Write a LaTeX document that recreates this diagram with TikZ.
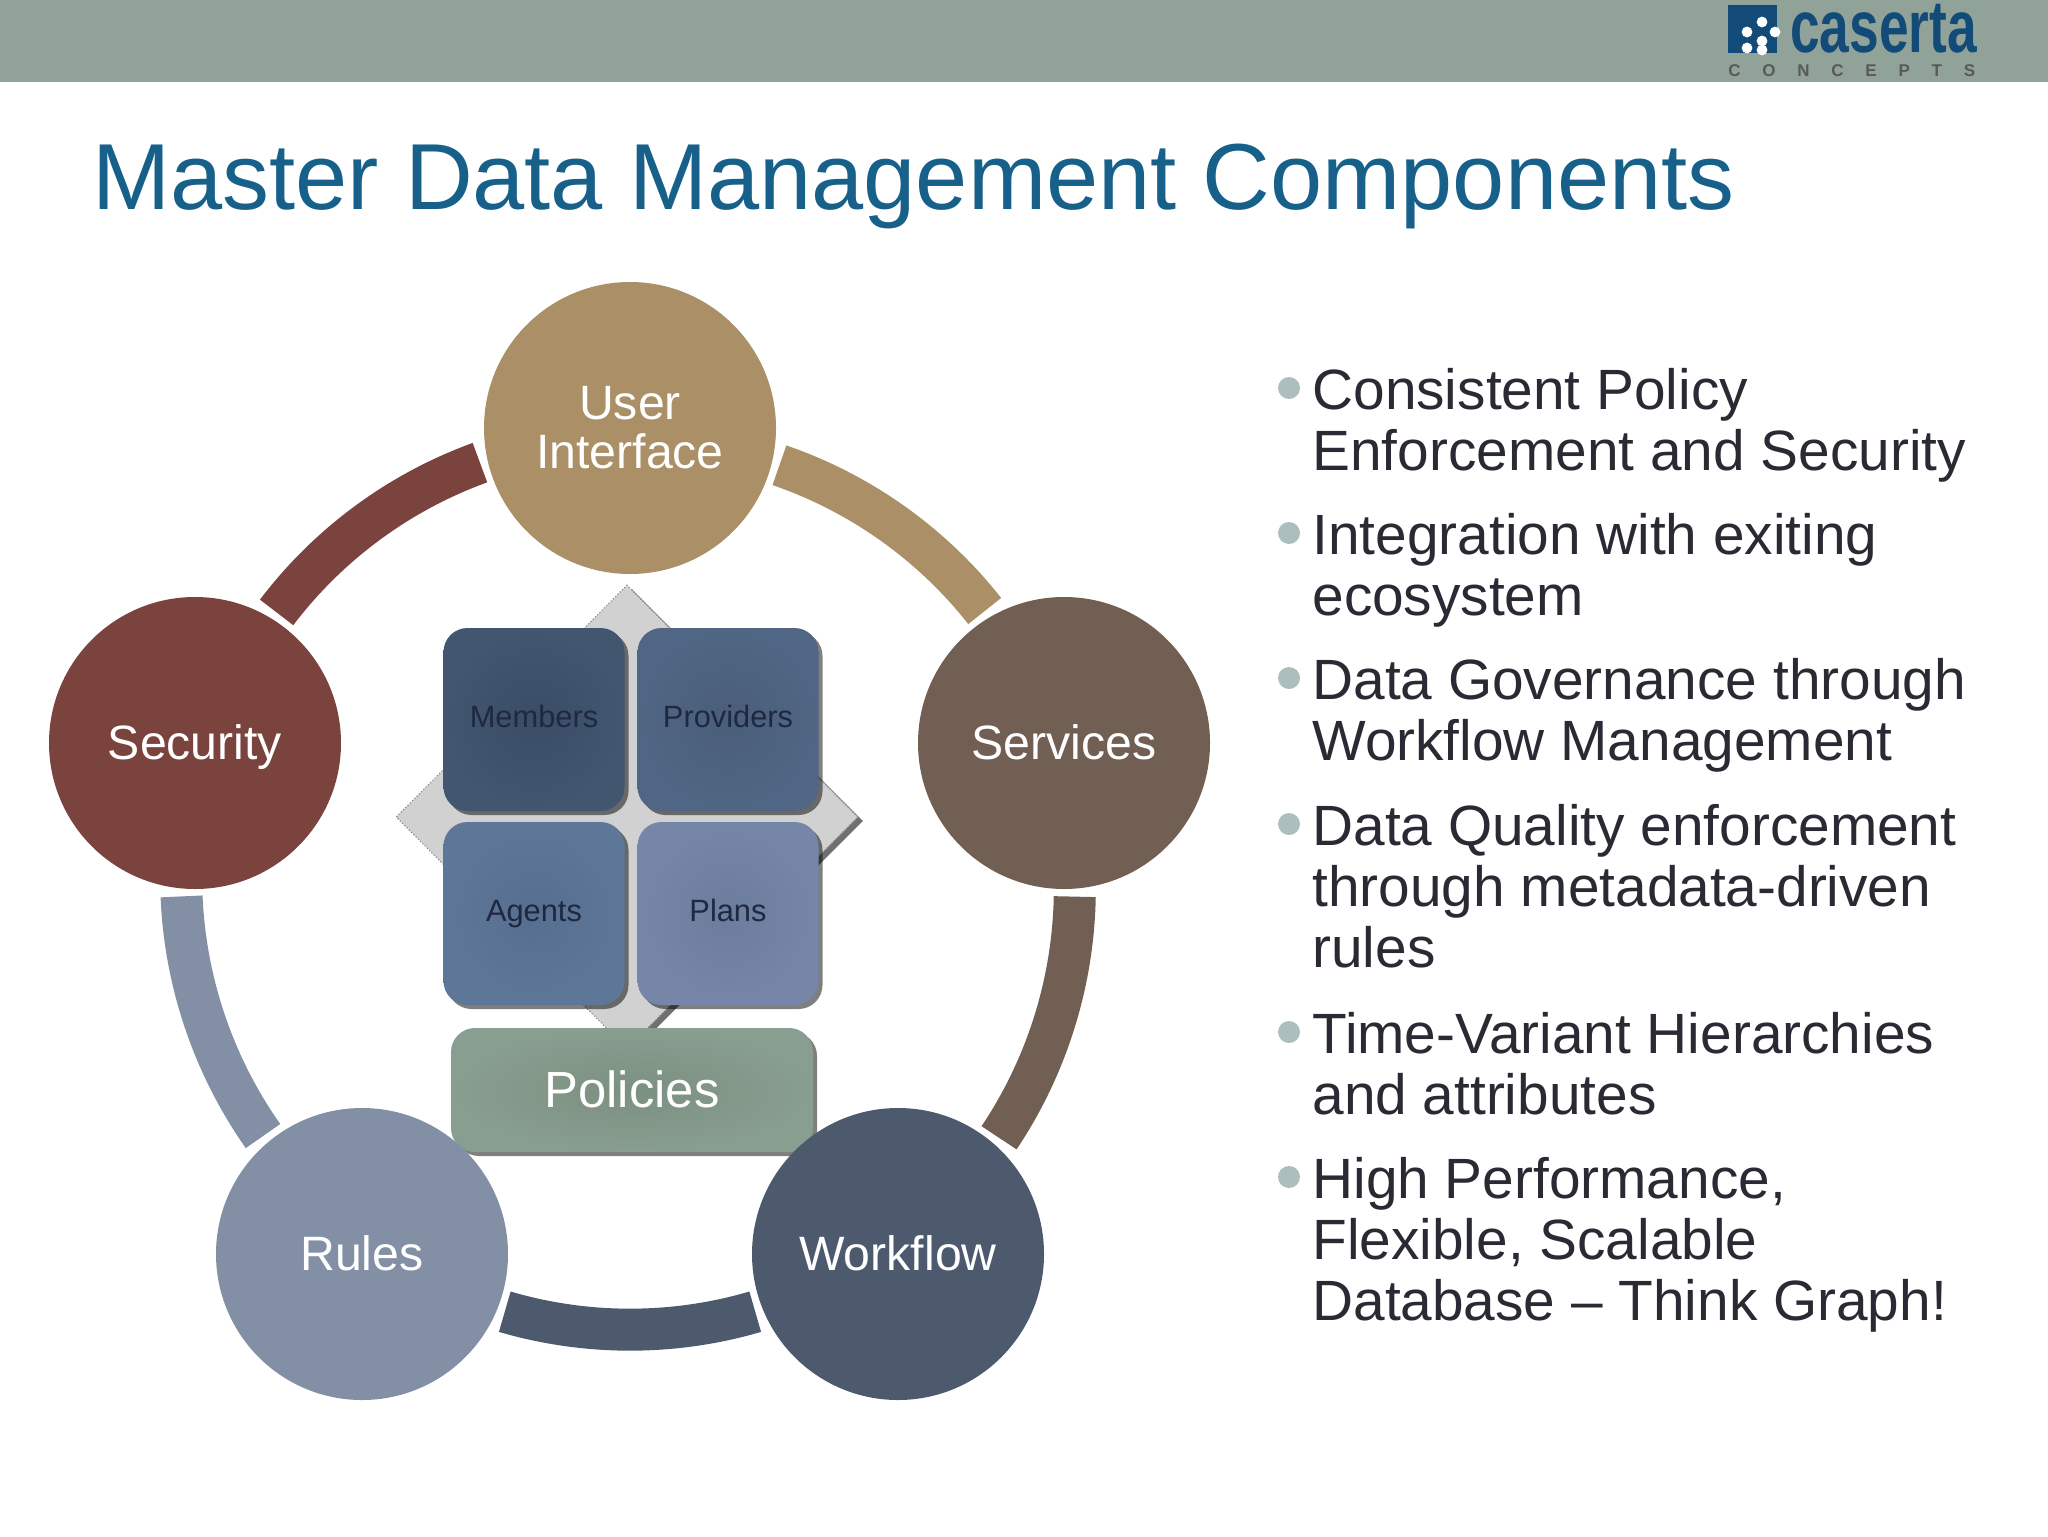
\documentclass[tikz,border=0pt]{standalone}
\usepackage{fontspec}
\setmainfont{Liberation Sans}
\usetikzlibrary{shapes.geometric,shadows}
\definecolor{barcol}{RGB}{145,163,153}
\definecolor{titlecol}{RGB}{22,96,138}
\definecolor{logocol}{RGB}{18,75,120}
\definecolor{uicol}{RGB}{170,143,103}
\definecolor{servicescol}{RGB}{113,95,83}
\definecolor{workflowcol}{RGB}{77,90,110}
\definecolor{rulescol}{RGB}{130,143,165}
\definecolor{securitycol}{RGB}{122,67,61}
\definecolor{bulletcol}{RGB}{172,190,190}
\definecolor{bodycol}{RGB}{42,42,52}
\definecolor{tilecol}{RGB}{30,40,65}
\tikzset{
  hubcircle/.style={circle,minimum size=146pt,inner sep=0pt,outer sep=4pt,text=white,align=center,
    font=\fontsize{24.1}{25}\selectfont},
  oneline/.style={text height=17pt,text depth=.5pt},
  ringarc/.style={line width=21pt},
  tile/.style={rectangle,rounded corners=12pt,minimum width=90.5pt,minimum height=91.5pt,inner sep=0pt,
    text=tilecol,font=\fontsize{15.4}{18}\selectfont,text height=11pt,text depth=3.5pt,
    drop shadow={shadow xshift=2pt,shadow yshift=-2pt,fill=black,opacity=.5}},
  bulletdot/.style={circle,fill=bulletcol,minimum size=11pt,inner sep=0pt},
  bullettext/.style={anchor=north west,inner sep=0pt,align=left,text=bodycol,
    font=\fontsize{28.4}{30.7}\selectfont}
}
\begin{document}
\begin{tikzpicture}[x=0.5pt,y=-0.5pt]
  \useasboundingbox (0,0) rectangle (2048,1536);
  \fill[barcol] (0,0) rectangle (2048,82);
  % logo
  \fill[logocol] (1728,5) rectangle (1777,53);
  \foreach \x/\y in {1762/22,1747/32,1762/41,1775/32,1747/48,1762/50}
    \fill[white] (\x,\y) circle (2.7pt);
  \node[anchor=base west,inner sep=0pt,xscale=.72,text=logocol,font=\bfseries\fontsize{37}{37}\selectfont] (logoname) at (1790,53) {caserta};
  \node[anchor=base west,inner sep=0pt,text=black!65,font=\bfseries\fontsize{8.5}{9}\selectfont] (logosub) at (1728,77)
    {\addfontfeatures{LetterSpace=128}CONCEPTS};
  \node[anchor=base west,inner sep=0pt,text=titlecol,font=\fontsize{46.9}{50}\selectfont] (title) at (92,209)
    {Master Data Management Components};
  % centre
  \node[diamond,aspect=1,minimum width=231pt,minimum height=232pt,inner sep=0pt,fill=black!18,
    draw=black!45,densely dotted,line width=.6pt,
    drop shadow={shadow xshift=2.5pt,shadow yshift=-2pt,fill=black!70,opacity=.8,solid}] (plate) at (627,817) {};
  \node[tile,inner color={rgb,255:red,58;green,76;blue,102},outer color={rgb,255:red,66;green,86;blue,112}] (members) at (534,719.5) {Members};
  \node[tile,inner color={rgb,255:red,74;green,94;blue,122},outer color={rgb,255:red,80;green,102;blue,132}] (providers) at (728,719.5) {Providers};
  \node[tile,inner color={rgb,255:red,86;green,110;blue,144},outer color={rgb,255:red,94;green,118;blue,152}] (agents) at (534,913.5) {Agents};
  \node[tile,inner color={rgb,255:red,108;green,124;blue,156},outer color={rgb,255:red,118;green,134;blue,168}] (plans) at (728,913.5) {Plans};
  \node[tile,minimum width=181pt,minimum height=62pt,text=white,font=\fontsize{25.4}{28}\selectfont,text height=18pt,text depth=1pt,
    inner color={rgb,255:red,124;green,144;blue,128},outer color={rgb,255:red,136;green,158;blue,144}] (policies) at (632,1090) {Policies};
  % ring
  \node[hubcircle,fill=uicol] (ui) at (630,428) {User\\[-.5pt]Interface};
  \node[hubcircle,oneline,fill=servicescol] (services) at (1064,743) {Services};
  \node[hubcircle,oneline,fill=workflowcol] (workflow) at (898,1254) {Workflow};
  \node[hubcircle,oneline,fill=rulescol] (rules) at (362,1254) {Rules};
  \node[hubcircle,oneline,fill=securitycol] (security) at (195,743) {Security};
  \foreach \a/\p/\b/\q/\c in {ui/346.9/services/121.1/uicol,services/274.9/workflow/49.1/servicescol,
    workflow/202.9/rules/-22.9/workflowcol,rules/130.9/security/265.1/rulescol,security/58.9/ui/193.1/securitycol}
    \draw[ringarc,draw=\c] (\a.\p) to[bend left=16.4,looseness=.869] (\b.\q);
  % list
  \foreach \y/\txt [count=\i] in {388/{Consistent Policy\\Enforcement and Security},
    533/{Integration with exiting\\ecosystem},
    678/{Data Governance through\\Workflow Management},
    824/{Data Quality enforcement\\through metadata-driven\\rules},
    1032/{Time-Variant Hierarchies\\and attributes},
    1177/{High Performance,\\Flexible, Scalable\\Database – Think Graph!}}{
    \node[bulletdot] (dot\i) at (1289,\y) {};
    \node[bullettext] (item\i) at (1312,\y-20.5) {\txt};
  }
\end{tikzpicture}
\end{document}
